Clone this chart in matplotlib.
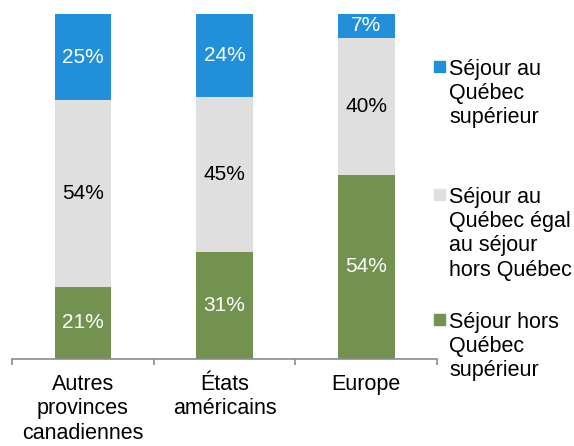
import matplotlib.pyplot as plt
import numpy as np
from matplotlib.patches import Rectangle

plt.rcParams["font.family"] = ["Liberation Sans", "DejaVu Sans"]

categories = ["Autres\nprovinces\ncanadiennes", "États\naméricains", "Europe"]
hors_quebec = [21, 31, 54]
egal = [54, 45, 40]
au_quebec = [25, 24, 7]
series_labels = [
    "Séjour au\nQuébec\nsupérieur",
    "Séjour au\nQuébec égal\nau séjour\nhors Québec",
    "Séjour hors\nQuébec\nsupérieur",
]

GREEN = "#739250"
GRAY = "#DFDFDF"
BLUE = "#228FDA"

raw = np.array([hors_quebec, egal, au_quebec], dtype=float)
shares = raw / raw.sum(axis=0) * 100
colors = [GREEN, GRAY, BLUE]
text_colors = ["white", "black", "white"]

fig = plt.figure(figsize=(5.74, 4.46), dpi=100)
ax = fig.add_axes([12 / 574, 87 / 446, 425 / 574, 345 / 446])

x = np.arange(len(categories))
bottom = np.zeros(len(categories))
for vals, share, color, tcolor in zip(raw, shares, colors, text_colors):
    ax.bar(x, share, bottom=bottom, width=0.4, color=color, edgecolor="none")
    for xi, b, s, v in zip(x, bottom, share, vals):
        ax.text(xi, b + s / 2, f"{int(v)}%", ha="center", va="center",
                color=tcolor, fontsize=15)
    bottom += share

ax.set_xlim(-0.5, 2.5)
ax.set_ylim(0, 100)
for side in ("top", "right", "left"):
    ax.spines[side].set_visible(False)
ax.spines["bottom"].set_color("#8C8C8C")
ax.spines["bottom"].set_linewidth(1.2)
ax.set_yticks([])
ax.set_xticks(x)
ax.set_xticklabels(categories, fontsize=15.5, linespacing=1.2)
ax.tick_params(axis="x", which="major", length=0, pad=11)
ax.set_xticks([-0.5, 0.5, 1.5, 2.5], minor=True)
ax.tick_params(axis="x", which="minor", length=4.5, width=1.2, color="#8C8C8C", direction="out")

# legend, drawn by hand so the square sits beside the first line
legend_order = [2, 1, 0]
square_tops = [61, 189, 314]
for idx, top, label in zip(legend_order, square_tops, series_labels):
    fig.patches.append(Rectangle((434 / 574, 1 - (top + 11) / 446), 11 / 574, 11 / 446,
                                 transform=fig.transFigure, color=colors[idx]))
    fig.text(449 / 574, 1 - (top - 2) / 446, label, ha="left", va="top",
             fontsize=15.5, linespacing=1.2)

fig.savefig("out.png", dpi=100)
